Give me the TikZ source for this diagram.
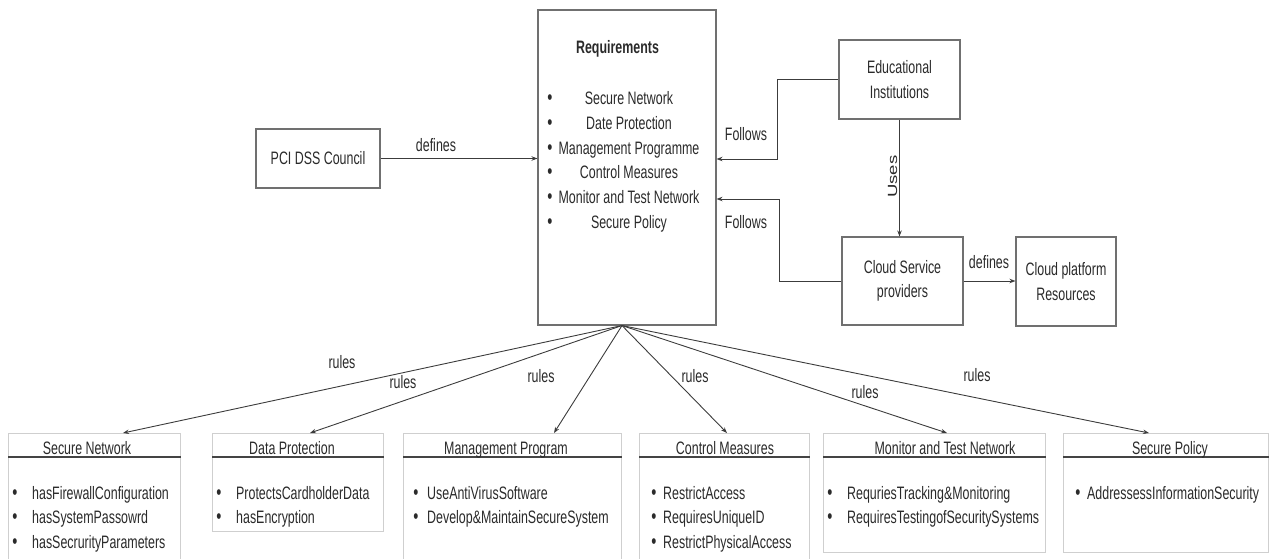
\documentclass[tikz,border=0pt]{standalone}
\usepackage{fontspec}
\setmainfont{Liberation Sans}[FakeStretch=0.69]
\newfontfamily\plainsans{Liberation Sans}
\usetikzlibrary{arrows.meta,calc}
\definecolor{txt}{HTML}{2A2A2A}
\definecolor{boxc}{HTML}{707070}
\definecolor{lightc}{HTML}{CFCFCF}
\definecolor{hdrc}{HTML}{444444}
\definecolor{arrc}{HTML}{3C3C3C}
\begin{document}
\begin{tikzpicture}[x=1pt,y=-1pt,
  every node/.style={font=\fontsize{18}{24.5}\selectfont, text=txt},
  box/.style={draw=boxc, line width=1.1pt, inner sep=0pt, align=center},
  lbox/.style={draw=lightc, line width=1pt, inner sep=0pt, anchor=north west},
  hdr/.style={draw=hdrc, line width=2.2pt},
  arr/.style={draw=arrc, line width=0.9pt, -{Stealth[length=6pt,width=4.5pt]}},
  lbl/.style={inner sep=0pt},
  bul/.style={anchor=base, inner sep=0pt, font=\fontsize{21}{24.5}\selectfont},
  itm/.style={anchor=base west, inner sep=0pt},
  ttl/.style={anchor=base, inner sep=0pt}]
\useasboundingbox (0,0) rectangle (1272,559);
\clip (0,0) rectangle (1272,559);

% top boxes
\node[box, minimum width=124pt, minimum height=59pt] (pci) at (318,158.5) {PCI DSS Council};
\node[box, minimum width=178pt, minimum height=315pt] (req) at (627,167.5) {};
\node[box, minimum width=121pt, minimum height=79pt] (edu) at (899.5,79.5) {Educational\\Institutions};
\node[box, minimum width=121pt, minimum height=88pt] (cloud) at (902.5,281) {Cloud Service\\providers};
\node[box, minimum width=100pt, minimum height=89pt] (cpr) at (1066,281.5) {Cloud platform\\Resources};

% requirements content
\node[ttl] (reqt) at (617.5,54) {\textbf{Requirements}};
\foreach \t [count=\i] in {Secure Network,Date Protection,Management Programme,Control Measures,Monitor and Test Network,Secure Policy}{
  \node[bul] (rb\i) at (550,{105+24.6*(\i-1)}) {\textbullet};
  \node[ttl] (ri\i) at (629,{105+24.6*(\i-1)}) {\t};
}

% connectors top
\coordinate (f1) at (777,159);
\coordinate (f2) at (779,199);
\draw[arr] (pci.east) -- (pci.east -| req.west);
\draw[arr] (edu.west) -| (f1) -- (f1 -| req.east);
\draw[arr] (cloud.west) -| (f2) -- (f2 -| req.east);
\draw[arr] (edu.south) -- (edu.south |- cloud.north);
\draw[arr] (cloud.east) -- (cloud.east -| cpr.west);

\node[lbl] (ldef1) at (436,145) {defines};
\node[lbl] (lfol1) at (746,134.5) {Follows};
\node[lbl] (lfol2) at (746,222.5) {Follows};
\node[lbl, font=\plainsans\fontsize{18.5}{22}\selectfont, rotate=90, yscale=0.72] (luses) at (892.5,176.6) {Uses};
\node[lbl] (ldef2) at (989,262) {defines};

% bottom boxes
\node[lbox, minimum width=172pt, minimum height=150pt] (sn) at (8,433) {};
\node[lbox, minimum width=171pt, minimum height=98pt] (dp) at (212,433) {};
\node[lbox, minimum width=218pt, minimum height=150pt] (mp) at (403,433) {};
\node[lbox, minimum width=170pt, minimum height=150pt] (cm) at (639,433) {};
\node[lbox, minimum width=222pt, minimum height=119pt] (mt) at (823,433) {};
\node[lbox, minimum width=205pt, minimum height=119pt] (sp) at (1063,433) {};

\foreach \b in {sn,dp,mp,cm,mt,sp}{
  \draw[hdr] ($(\b.north west)+(0,24)$) -- ($(\b.north east)+(0,24)$);
}

\node[ttl] (snt) at (87,454) {Secure Network};
\node[ttl] (dpt) at (292,454) {Data Protection};
\node[ttl] (mpt) at (506,454) {Management Program};
\node[ttl] (cmt) at (725,454) {Control Measures};
\node[ttl] (mtt) at (945,454) {Monitor and Test Network};
\node[ttl] (spt) at (1170,454) {Secure Policy};

\foreach \t [count=\i] in {hasFirewallConfiguration,hasSystemPassowrd,hasSecrurityParameters}{
  \node[bul] (snb\i) at (15,{474.5+24.5*\i}) {\textbullet};
  \node[itm] (sni\i) at (32,{474.5+24.5*\i}) {\t};
}
\foreach \t [count=\i] in {ProtectsCardholderData,hasEncryption}{
  \node[bul] (dpb\i) at (219,{474.5+24.5*\i}) {\textbullet};
  \node[itm] (dpi\i) at (236,{474.5+24.5*\i}) {\t};
}
\foreach \t [count=\i] in {UseAntiVirusSoftware,Develop\&MaintainSecureSystem}{
  \node[bul] (mpb\i) at (416,{474.5+24.5*\i}) {\textbullet};
  \node[itm] (mpi\i) at (427,{474.5+24.5*\i}) {\t};
}
\foreach \t [count=\i] in {RestrictAccess,RequiresUniqueID,RestrictPhysicalAccess}{
  \node[bul] (cmb\i) at (654,{474.5+24.5*\i}) {\textbullet};
  \node[itm] (cmi\i) at (663,{474.5+24.5*\i}) {\t};
}
\foreach \t [count=\i] in {RequriesTracking\&Monitoring,RequiresTestingofSecuritySystems}{
  \node[bul] (mtb\i) at (830,{474.5+24.5*\i}) {\textbullet};
  \node[itm] (mti\i) at (847,{474.5+24.5*\i}) {\t};
}
\node[bul] (spb1) at (1078,499) {\textbullet};
\node[itm] (spi1) at (1087,499) {AddressessInformationSecurity};

% rules connectors
\draw[arr] ([xshift=-5pt]req.south) -- ($(sn.north west)+(115,0)$);
\draw[arr] ([xshift=-5pt]req.south) -- ($(dp.north west)+(98,0)$);
\draw[arr] ([xshift=-5pt]req.south) -- ($(mp.north west)+(151,0)$);
\draw[arr] ([xshift=-5pt]req.south) -- ($(cm.north west)+(88,0)$);
\draw[arr] ([xshift=-5pt]req.south) -- ($(mt.north west)+(124,0)$);
\draw[arr] ([xshift=-5pt]req.south) -- ($(sp.north west)+(86,0)$);

\node[lbl] (lr1) at (342,362) {rules};
\node[lbl] (lr2) at (403,382) {rules};
\node[lbl] (lr3) at (541,376) {rules};
\node[lbl] (lr4) at (695,376) {rules};
\node[lbl] (lr5) at (865,392) {rules};
\node[lbl] (lr6) at (977,375) {rules};
\end{tikzpicture}
\end{document}
